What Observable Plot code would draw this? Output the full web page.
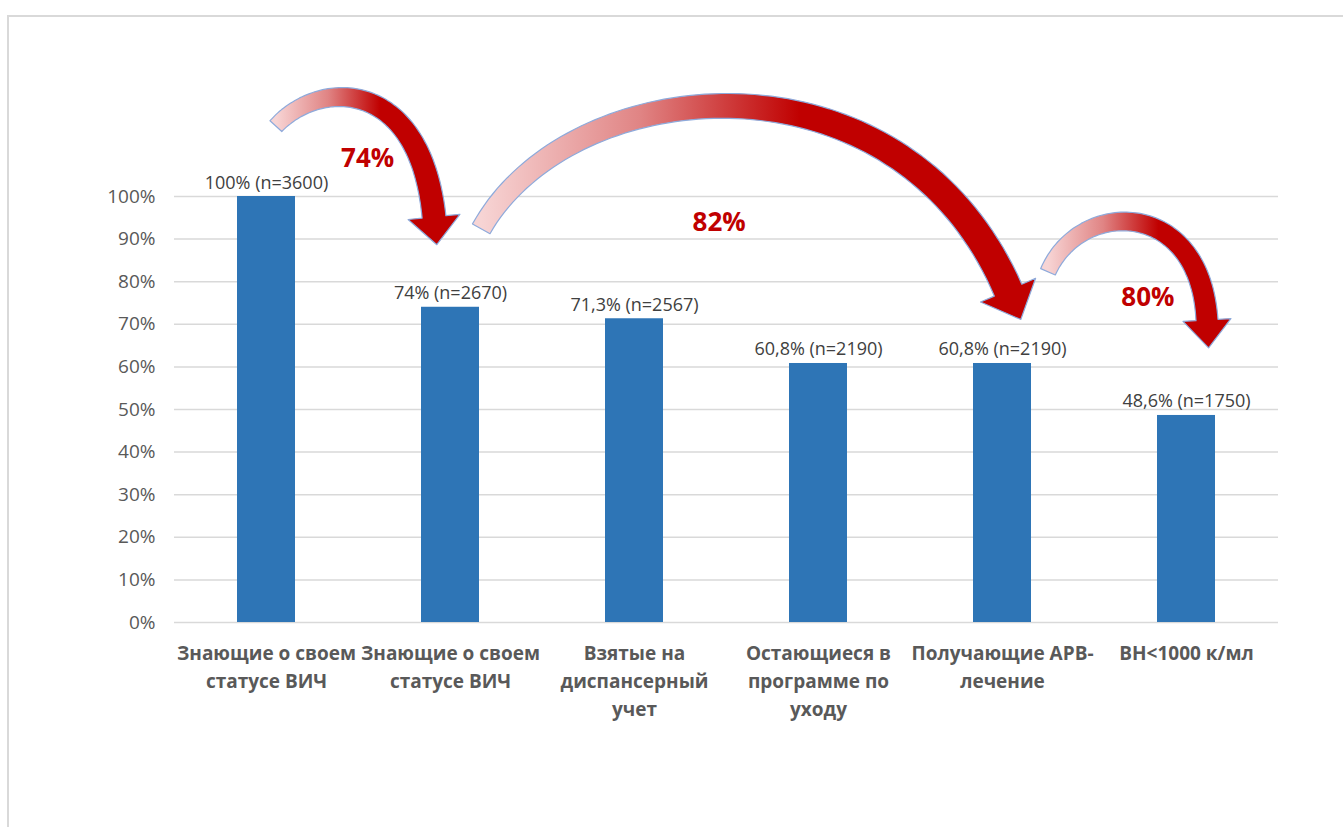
<!DOCTYPE html>
<html><head><meta charset="utf-8">
<script src="https://cdn.jsdelivr.net/npm/d3@7"></script>
<script src="https://cdn.jsdelivr.net/npm/@observablehq/plot@0.6"></script>
<style>
html,body{margin:0;padding:0;background:#fff;overflow:hidden;}
#frame{position:absolute;left:7px;top:15px;width:1336px;height:812px;border-left:2px solid #d9d9d9;border-top:2px solid #d9d9d9;box-sizing:border-box;}
#frame svg{display:block;}
</style></head><body><div id="frame"></div>
<script>
// ---- data ----
const categories = [
  "Знающие о своем\nстатусе ВИЧ",
  "Знающие о своем\nстатусе ВИЧ",
  "Взятые на\nдиспансерный\nучет",
  "Остающиеся в\nпрограмме по\nуходу",
  "Получающие АРВ-\nлечение",
  "ВН<1000 к/мл"
];
const values = [100, 74, 71.3, 60.8, 60.8, 48.6];
const valueLabels = ["100% (n=3600)", "74% (n=2670)", "71,3% (n=2567)", "60,8% (n=2190)", "60,8% (n=2190)", "48,6% (n=1750)"];
const yTicks = [0, 10, 20, 30, 40, 50, 60, 70, 80, 90, 100];
const stepLabels = ["74%", "82%", "80%"];
const stepLabelPos = [0.55, 2.46, 4.79];      // category-index units
const stepLabelVal = [108.9, 93.9, 76.3];     // percent units

// curved annotation arrows, control points in (category index, percent)
const arrows = [
  {pts: [[0.054, 116.4], [0.293, 127.7], [0.837, 127.7], [0.913, 95.1]], dark: 0.62},
  {pts: [[1.170, 92.3], [1.652, 129.6], [3.446, 136.6], [4.033, 77.9]], dark: 2.9},
  {pts: [[4.250, 82.2], [4.424, 99.5], [5.076, 99.5], [5.114, 70.9]], dark: 4.85}
];
const arrowStyle = [
  {w0: 16, w1: 24, headLen: 28, headHalf: 26},
  {w0: 20, w1: 30, headLen: 32, headHalf: 30},
  {w0: 16, w1: 22, headLen: 28, headHalf: 24}
];

const data = categories.map((label, i) => ({i, label, value: values[i], text: valueLabels[i]}));
const steps = stepLabels.map((t, k) => ({t, x: stepLabelPos[k], y: stepLabelVal[k]}));

function bez(P, t) {
  const u = 1 - t;
  return [0, 1].map(k => u*u*u*P[0][k] + 3*u*u*t*P[1][k] + 3*u*t*t*P[2][k] + t*t*t*P[3][k]);
}
function dbez(P, t) {
  const u = 1 - t;
  return [0, 1].map(k => 3*u*u*(P[1][k]-P[0][k]) + 6*u*t*(P[2][k]-P[1][k]) + 3*t*t*(P[3][k]-P[2][k]));
}

function arrowsMark(index, scales) {
  const {x, y} = scales;
  const g = d3.create("svg:g");
  const defs = g.append("defs");
  arrows.forEach((a, k) => {
    const st = arrowStyle[k];
    const P = a.pts.map(([i, v]) => [x(i), y(v)]);
    const id = "arrowGrad" + k;
    const grad = defs.append("linearGradient").attr("id", id)
      .attr("gradientUnits", "userSpaceOnUse")
      .attr("x1", P[0][0]).attr("y1", 0).attr("x2", x(a.dark)).attr("y2", 0);
    grad.append("stop").attr("offset", 0).attr("stop-color", "#f7d4d4");
    grad.append("stop").attr("offset", 0.5).attr("stop-color", "#e08484");
    grad.append("stop").attr("offset", 1).attr("stop-color", "#c00000");
    const N = 80, L = [], R = [];
    for (let s = 0; s <= N; s++) {
      const t = s / N;
      const p = bez(P, t), d = dbez(P, t);
      const len = Math.hypot(d[0], d[1]);
      const n = [-d[1] / len, d[0] / len];
      const w = (st.w0 + (st.w1 - st.w0) * t) / 2;
      L.push([p[0] + n[0]*w, p[1] + n[1]*w]);
      R.push([p[0] - n[0]*w, p[1] - n[1]*w]);
    }
    const e = bez(P, 1), d = dbez(P, 1), len = Math.hypot(d[0], d[1]);
    const tn = [d[0]/len, d[1]/len], n = [-tn[1], tn[0]];
    const tip = [e[0] + tn[0]*st.headLen, e[1] + tn[1]*st.headLen];
    const hl = [e[0] + n[0]*st.headHalf, e[1] + n[1]*st.headHalf];
    const hr = [e[0] - n[0]*st.headHalf, e[1] - n[1]*st.headHalf];
    const pts = [...L, hl, tip, hr, ...R.reverse()];
    g.append("path")
      .attr("d", "M" + pts.map(p => p[0].toFixed(1) + "," + p[1].toFixed(1)).join("L") + "Z")
      .attr("fill", `url(#${id})`)
      .attr("stroke", "#8eaadb")
      .attr("stroke-width", 1.2)
      .attr("stroke-linejoin", "round");
  });
  return g.node();
}

const chart = Plot.plot({
  width: 1334,
  height: 810,
  marginLeft: 165,
  marginRight: 65,
  marginTop: 179,
  marginBottom: 205,
  style: {fontFamily: "'Open Sans', 'Liberation Sans', sans-serif", background: "transparent"},
  x: {domain: [-0.5, 5.5], axis: null},
  y: {domain: [0, 100], axis: null},
  marks: [
    Plot.ruleY(yTicks, {stroke: "#d9d9d9", strokeWidth: 1.5}),
    Plot.axisY(yTicks, {tickSize: 0, tickPadding: 19, tickFormat: d => d + "%", fontSize: 19, color: "#595959"}),
    Plot.rectY(data, {x1: d => d.i - 0.1576, x2: d => d.i + 0.1576, y: "value", fill: "#2e75b6"}),
    Plot.text(data, {x: "i", y: "value", text: "text", dy: -8, lineAnchor: "bottom", fontSize: 18, fill: "#404040"}),
    Plot.text(data, {x: "i", y: 0, text: "label", dy: 18, lineAnchor: "top", lineHeight: 1.47, fontSize: 19, fontWeight: "bold", fill: "#595959"}),
    arrowsMark,
    Plot.text(steps, {x: "x", y: "y", text: "t", fontSize: 26, fontWeight: "bold", fill: "#c00000"})
  ]
});
document.getElementById("frame").appendChild(chart);
</script>
</body></html>
